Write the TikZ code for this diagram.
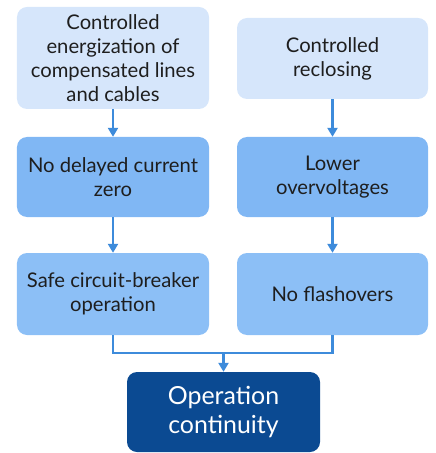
\documentclass[tikz,border=0pt]{standalone}
\usepackage{fontspec}
\setmainfont{Lato}
\usetikzlibrary{arrows.meta}
\definecolor{lightbox}{HTML}{D6E6FB}
\definecolor{midbox}{HTML}{80B7F4}
\definecolor{lowbox}{HTML}{8CBFF6}
\definecolor{darkbox}{HTML}{0B4A92}
\definecolor{arrowc}{HTML}{3D8BDB}
\definecolor{txt}{HTML}{1E1E1E}
\begin{document}
\begin{tikzpicture}[x=1bp,y=-1bp,
  box/.style={rounded corners=10bp, draw=none, minimum width=192bp, align=center,
    text=txt, font=\fontsize{20.3}{24}\selectfont, inner sep=0pt},
  conn/.style={draw=arrowc, line width=2.4bp},
  arr/.style={conn, -{Triangle[width=10bp,length=9bp]}}]
\useasboundingbox (0,0) rectangle (436,453);
\node[box, fill=lightbox, minimum height=102bp] (a) at (113,58) {Controlled\\energization of\\compensated lines\\and cables};
\node[box, fill=lightbox, minimum height=81bp, minimum width=191bp] (b) at (332.5,58.5) {Controlled\\reclosing};
\node[box, fill=midbox, minimum height=80bp] (c) at (113,177) {No delayed current\\zero};
\node[box, fill=midbox, minimum height=80bp, minimum width=191bp] (d) at (332.5,177) {Lower\\overvoltages};
\node[box, fill=lowbox, minimum height=82bp] (e) at (113,294) {Safe circuit-breaker\\operation};
\node[box, fill=lowbox, minimum height=82bp, minimum width=191bp] (f) at (332.5,294) {No flashovers};
\node[box, fill=darkbox, minimum height=80bp, minimum width=193bp, text=white,
  font=\fontsize{25}{29}\selectfont] (g) at (223.5,412) {Operation\\continuity};
\coordinate (j) at (223.5,353);
\draw[arr] (a.south) -- (c.north);
\draw[arr] (b.south) -- (d.north);
\draw[arr] (c.south) -- (e.north);
\draw[arr] (d.south) -- (f.north);
\draw[conn] (e.south) |- (j) -| (f.south);
\draw[arr] (j) -- (g.north);
\end{tikzpicture}
\end{document}
